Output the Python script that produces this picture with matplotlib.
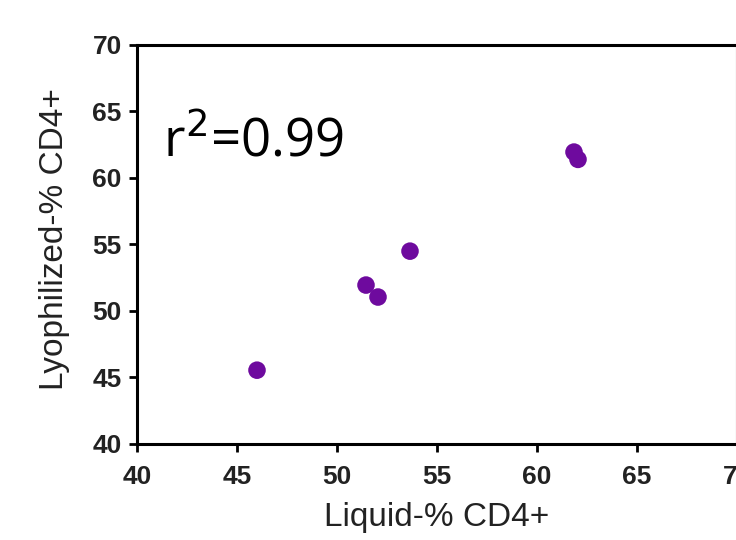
import matplotlib.pyplot as plt

# data
liquid = [46.0, 51.45, 52.05, 53.65, 61.85, 62.05]
lyophilized = [45.55, 51.95, 51.05, 54.5, 61.95, 61.4]
x_ticks = [40, 45, 50, 55, 60, 65, 70]
y_ticks = [40, 45, 50, 55, 60, 65, 70]

fig = plt.figure(figsize=(7.36, 5.40), dpi=100)
ax = fig.add_axes([137 / 736, 96 / 540, 600 / 736, 399 / 540])

ax.scatter(liquid, lyophilized, s=160, color='#6e0a9e', edgecolors='none', zorder=3)

ax.set_xlim(40, 70)
ax.set_ylim(40, 70)
ax.set_xticks(x_ticks)
ax.set_yticks(y_ticks)

for spine in ax.spines.values():
    spine.set_linewidth(2.2)
ax.tick_params(direction='out', length=6, width=2)
ax.tick_params(axis='x', pad=9)
ax.tick_params(axis='y', pad=5)
for lbl in ax.get_xticklabels() + ax.get_yticklabels():
    lbl.set_fontfamily('Liberation Sans')
    lbl.set_fontweight('bold')
    lbl.set_fontsize(19)
    lbl.set_color('#222222')

ax.set_xlabel('Liquid-% CD4+', fontsize=24, family='Liberation Sans', color='#222222')
ax.set_ylabel('Lyophilized-% CD4+', fontsize=24, family='Liberation Sans', color='#222222')
ax.xaxis.set_label_coords(0.5, -0.145)
ax.yaxis.set_label_coords(-0.112, 0.514)

ax.text(41.3, 61.65, r'r$^2$=0.99', fontsize=38, family='Open Sans', va='baseline', ha='left')

fig.savefig('out.png', dpi=100)
